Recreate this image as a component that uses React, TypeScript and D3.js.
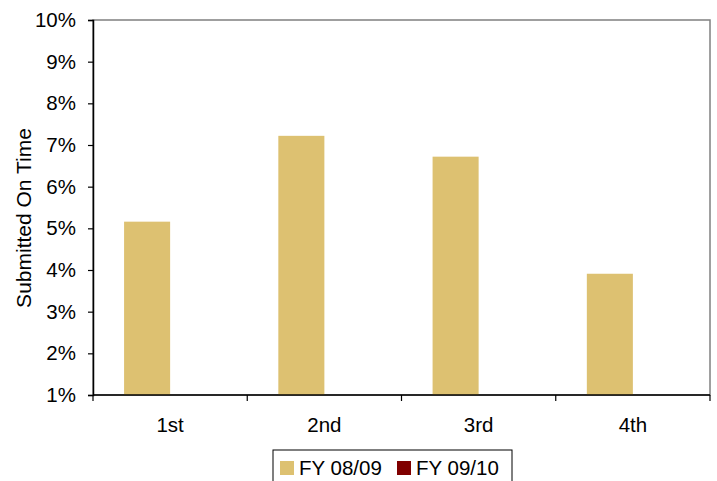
import React, { useEffect, useRef } from 'react';
import * as d3 from 'd3';

const quarters = ['1st', '2nd', '3rd', '4th'];
const fy0809 = [5.16, 7.22, 6.72, 3.91];
const fy0910: (number | null)[] = [null, null, null, null];
const seriesNames = ['FY 08/09', 'FY 09/10'];
const seriesColors = ['#DDC171', '#800000'];
const yTicks = [1, 2, 3, 4, 5, 6, 7, 8, 9, 10];

const W = 717;
const H = 481;

const App: React.FC = () => {
  const svgRef = useRef<SVGSVGElement>(null);

  useEffect(() => {
    if (!svgRef.current) return;
    const margin = { top: 20, right: 7, bottom: 86, left: 93 };
    const width = W - margin.left - margin.right;
    const height = H - margin.top - margin.bottom;
    const font = 'Liberation Sans, Arial, sans-serif';

    const svg = d3.select(svgRef.current);
    svg.selectAll('*').remove();

    const g = svg.append('g').attr('transform', `translate(${margin.left},${margin.top})`);

    const x = d3.scaleBand().domain(quarters).range([0, width]).paddingInner(0).paddingOuter(0);
    const bw = x.bandwidth() / 3.35;
    const y = d3.scaleLinear().domain([1, 10]).range([height, 0]);

    // plot area border (gray top/right)
    g.append('rect')
      .attr('x', 0).attr('y', 0).attr('width', width).attr('height', height)
      .attr('fill', 'none').attr('stroke', '#808080').attr('stroke-width', 1.5);

    // bars
    const series = [fy0809, fy0910];
    series.forEach((vals, si) => {
      g.selectAll(`.bar-${si}`)
        .data(quarters.map((q, i) => ({ q, v: vals[i] })).filter(d => d.v != null))
        .enter().append('rect')
        .attr('class', `bar-${si}`)
        .attr('x', d => x(d.q)! + x.bandwidth() / 2 - bw + si * bw)
        .attr('y', d => y(d.v as number))
        .attr('width', bw)
        .attr('height', d => height - y(d.v as number))
        .attr('fill', seriesColors[si]);
    });

    // y axis
    const yAxis = g.append('g')
      .call(d3.axisLeft(y).tickValues(yTicks).tickSize(5).tickPadding(12).tickFormat(d => `${d}%`));
    yAxis.select('.domain').attr('stroke', '#000').attr('stroke-width', 1.5);
    yAxis.selectAll('.tick line').attr('stroke', '#000').attr('stroke-width', 1.2);
    yAxis.selectAll('text')
      .style('font-family', font).style('font-size', '20.5px').attr('fill', '#000');

    // x axis
    const xAxis = g.append('g').attr('transform', `translate(0,${height})`);
    xAxis.append('line')
      .attr('x1', 0).attr('x2', width).attr('stroke', '#000').attr('stroke-width', 1.5);
    xAxis.selectAll('.xtick')
      .data([0, 1, 2, 3, 4])
      .enter().append('line')
      .attr('class', 'xtick')
      .attr('x1', i => (i < 4 ? x(quarters[i])! : width))
      .attr('x2', i => (i < 4 ? x(quarters[i])! : width))
      .attr('y1', 0).attr('y2', 6)
      .attr('stroke', '#000').attr('stroke-width', 1.2);
    xAxis.selectAll('.xlab')
      .data(quarters)
      .enter().append('text')
      .attr('x', d => x(d)! + x.bandwidth() / 2)
      .attr('y', 37)
      .attr('text-anchor', 'middle')
      .style('font-family', font).style('font-size', '20.5px')
      .text(d => d);

    // y title
    svg.append('text')
      .attr('transform', `translate(31,218) rotate(-90)`)
      .attr('text-anchor', 'middle')
      .style('font-family', font).style('font-size', '21px')
      .text('Submitted On Time');

    // legend
    const lg = svg.append('g').attr('transform', 'translate(273,450)');
    lg.append('rect')
      .attr('x', 0).attr('y', 0).attr('width', 239).attr('height', 36)
      .attr('fill', '#fff').attr('stroke', '#000').attr('stroke-width', 1);
    const items = [
      { name: seriesNames[0], color: seriesColors[0], dx: 7 },
      { name: seriesNames[1], color: seriesColors[1], dx: 124 },
    ];
    items.forEach(it => {
      lg.append('rect')
        .attr('x', it.dx).attr('y', 11).attr('width', 14).attr('height', 14)
        .attr('fill', it.color);
      lg.append('text')
        .attr('x', it.dx + 19).attr('y', 25)
        .style('font-family', font).style('font-size', '20.5px')
        .text(it.name);
    });
  }, []);

  return (
    <div style={{ position: 'fixed', left: 0, top: 0, width: W, height: H, background: '#fff' }}>
      <svg ref={svgRef} width={W} height={H} style={{ display: 'block' }}></svg>
    </div>
  );
};

export default App;
